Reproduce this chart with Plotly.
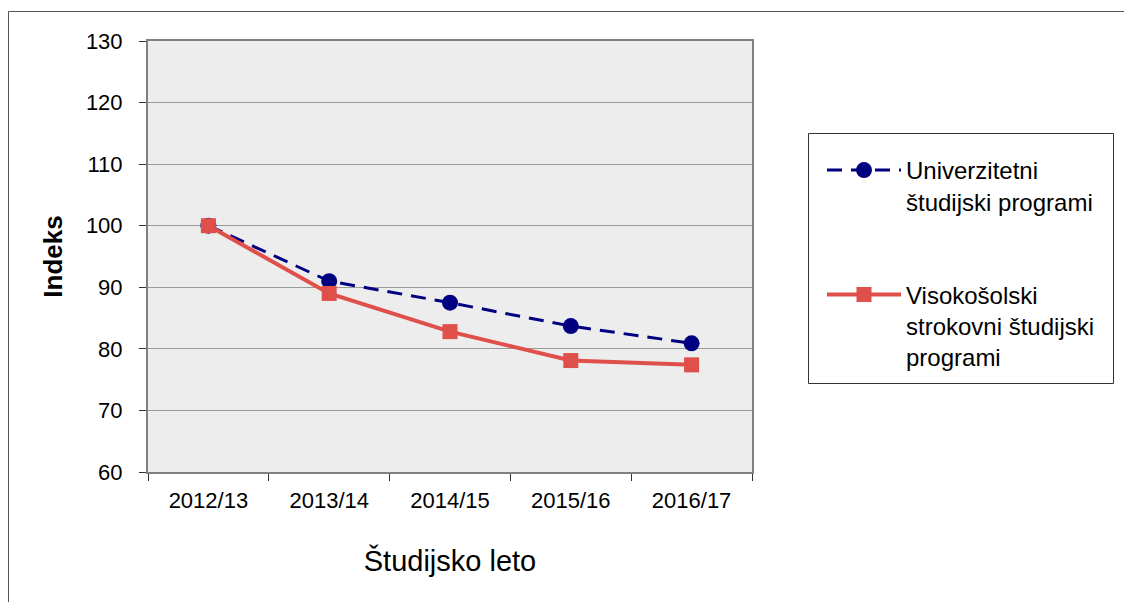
import plotly.graph_objects as go

years = ["2012/13", "2013/14", "2014/15", "2015/16", "2016/17"]
univerzitetni = [100, 91.0, 87.5, 83.7, 80.9]
visokosolski = [100, 89.0, 82.8, 78.1, 77.4]
series_names = ["Univerzitetni<br>študijski programi",
                "Visokošolski<br>strokovni študijski<br>programi"]

FONT = "Liberation Sans, Arial, sans-serif"

fig = go.Figure()
fig.add_trace(go.Scatter(
    x=years, y=univerzitetni, name=series_names[0], mode="lines+markers",
    line=dict(color="#000080", width=3, dash="15px,9px"),
    marker=dict(symbol="circle", size=16, color="#000080"),
    legendgroup="a",
))
fig.add_trace(go.Scatter(
    x=years, y=visokosolski, name=series_names[1], mode="lines+markers",
    line=dict(color="#E0504A", width=4),
    marker=dict(symbol="square", size=15, color="#E0504A"),
    legendgroup="b",
))

# figure coordinates (page is offset by ~8px body margin)
OFF = 8
L, R, T, B = 148 - OFF, 752 - OFF, 41 - OFF, 472 - OFF
W, H = 1116, 594
pw, ph = R - L, B - T

def px(x):
    return (x - OFF - L) / pw

def py(y):
    return (B - (y - OFF)) / ph

fig.update_layout(
    width=W, height=H,
    margin=dict(l=L, r=W - R, t=T, b=H - B),
    paper_bgcolor="white",
    plot_bgcolor="#EDEDED",
    font=dict(family=FONT, size=22, color="black"),
    showlegend=True,
    legend=dict(
        x=px(822), y=py(148), xanchor="left", yanchor="top",
        borderwidth=0, bgcolor="rgba(0,0,0,0)",
        font=dict(family=FONT, size=24, color="black"),
        tracegroupgap=59, itemwidth=74, valign="top",
    ),
    xaxis=dict(
        type="category", tickson="boundaries",
        ticks="outside", ticklen=7, tickcolor="#333333", tickwidth=1,
        showgrid=False, showline=True, linecolor="#808080", linewidth=2,
        mirror=True, range=[-0.5, 4.5],
        tickfont=dict(size=22), ticklabelstandoff=8,
        title=dict(text="Študijsko leto", font=dict(size=29), standoff=38),
    ),
    yaxis=dict(
        range=[60, 130], dtick=10, tick0=60,
        ticks="outside", ticklen=7, tickcolor="#333333", tickwidth=1,
        showgrid=True, gridcolor="#9A9A9A", gridwidth=1,
        showline=True, linecolor="#808080", linewidth=2, mirror=True,
        zeroline=False,
        tickfont=dict(size=22), ticklabelstandoff=12,
        title=dict(text="<b>Indeks</b>", font=dict(size=26), standoff=16),
    ),
    shapes=[
        dict(
            type="rect", xref="paper", yref="paper",
            x0=px(8.5), x1=px(1300), y0=py(800), y1=py(11.5),
            line=dict(color="#555555", width=1), fillcolor="rgba(0,0,0,0)",
            layer="below",
        ),
        dict(
            type="rect", xref="paper", yref="paper",
            x0=px(808.5), x1=px(1113.5), y0=py(383.5), y1=py(133.5),
            line=dict(color="#333333", width=1), fillcolor="white",
            layer="below",
        ),
    ],
)

fig.write_html("out.html")
